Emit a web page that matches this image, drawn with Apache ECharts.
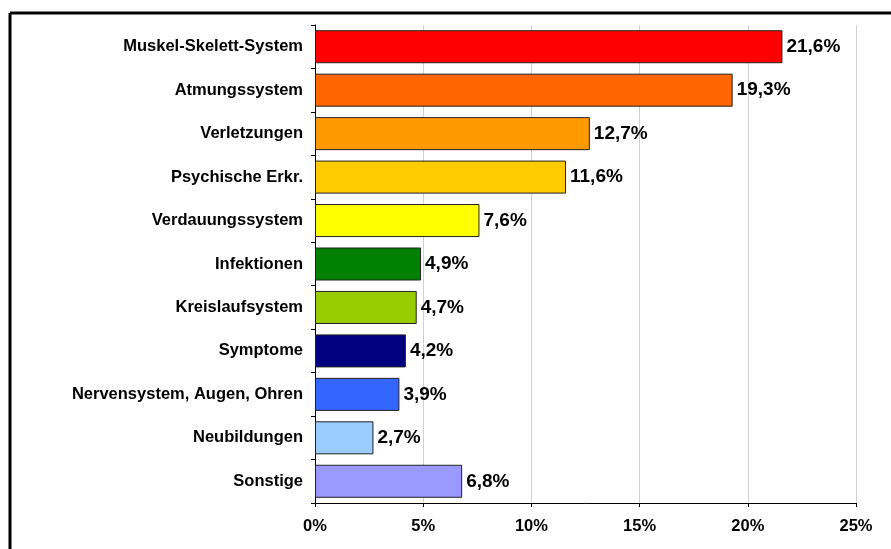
<!DOCTYPE html>
<html>
<head>
<meta charset="utf-8">
<script src="https://cdn.jsdelivr.net/npm/echarts@6/dist/echarts.min.js"></script>
<style>
  html, body { margin: 0; padding: 0; background: #fff; }
  #chart { width: 891px; height: 549px; }
</style>
</head>
<body>
<div id="chart"></div>
<script>
// categories top to bottom
const categories = [
  'Muskel-Skelett-System',
  'Atmungssystem',
  'Verletzungen',
  'Psychische Erkr.',
  'Verdauungssystem',
  'Infektionen',
  'Kreislaufsystem',
  'Symptome',
  'Nervensystem, Augen, Ohren',
  'Neubildungen',
  'Sonstige'
]
const values = [21.6, 19.3, 12.7, 11.6, 7.6, 4.9, 4.7, 4.2, 3.9, 2.7, 6.8]
const barColors = [
  '#FF0000', '#FF6600', '#FF9900', '#FFCC00', '#FFFF00',
  '#008000', '#99CC00', '#000080', '#3366FF', '#99CCFF', '#9999FF'
]
const xTicks = [0, 5, 10, 15, 20, 25]

const font = 'Liberation Sans, Arial, sans-serif'
const chart = echarts.init(document.getElementById('chart'))

chart.setOption({
  animation: false,
  textStyle: { fontFamily: font },
  grid: {
    left: 315,
    right: 35,
    top: 25,
    bottom: 46,
    containLabel: false
  },
  xAxis: {
    type: 'value',
    min: xTicks[0],
    max: xTicks[xTicks.length - 1],
    interval: 5,
    axisLine: { show: true, lineStyle: { color: '#000', width: 1 } },
    axisTick: { show: true, length: 4, lineStyle: { color: '#000' } },
    axisLabel: {
      color: '#000',
      fontWeight: 'bold',
      fontSize: 16.5,
      margin: 15,
      formatter: v => v + '%'
    },
    splitLine: { show: true, lineStyle: { color: '#d0d0d0', width: 1 } }
  },
  yAxis: {
    type: 'category',
    inverse: true,
    data: categories,
    axisLine: { show: true, lineStyle: { color: '#000', width: 1 } },
    axisTick: { show: true, length: 4, lineStyle: { color: '#000' } },
    axisLabel: {
      color: '#000',
      fontWeight: 'bold',
      fontSize: 16.5,
      margin: 12
    }
  },
  series: [
    {
      type: 'bar',
      barCategoryGap: '24%',
      data: values.map((v, i) => ({
        value: v,
        itemStyle: { color: barColors[i] }
      })),
      itemStyle: { borderColor: '#222', borderWidth: 1 },
      label: {
        show: true,
        position: 'right',
        distance: 4,
        color: '#000',
        fontWeight: 'bold',
        fontSize: 19,
        formatter: p => String(p.value).replace('.', ',') + '%'
      }
    }
  ],
  graphic: [
    {
      type: 'line',
      silent: true,
      shape: { x1: 10, y1: 13, x2: 891, y2: 13 },
      style: { stroke: '#000', lineWidth: 3 }
    },
    {
      type: 'line',
      silent: true,
      shape: { x1: 10, y1: 13, x2: 10, y2: 549 },
      style: { stroke: '#000', lineWidth: 3 }
    }
  ]
})
</script>
</body>
</html>
